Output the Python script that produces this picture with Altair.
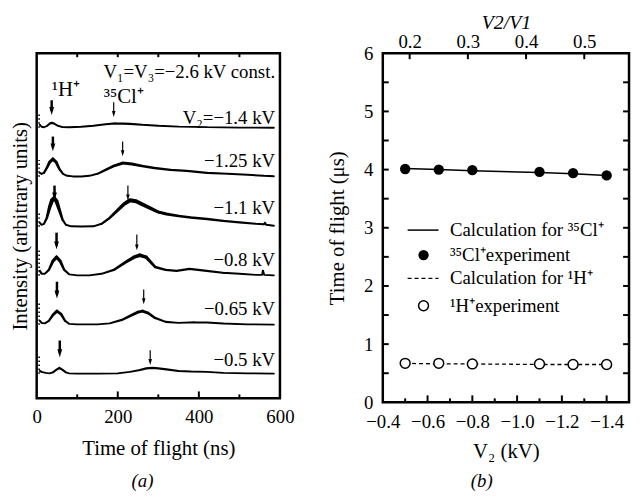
import altair as alt
import pandas as pd

FONT = "Liberation Serif"

# ---------------- Panel (a): time-of-flight spectra ----------------
trace_ids = ["-1.4", "-1.25", "-1.1", "-0.8", "-0.65", "-0.5"]
trace_labels = ["V₂=−1.4 kV", "−1.25 kV", "−1.1 kV", "−0.8 kV", "−0.65 kV", "−0.5 kV"]
baselines = [276, 226, 175, 125, 75, 25]
label_y = [286, 242, 194, 141, 91, 39]
spike_top = [16, 17, 15, 26, 22, 20]   # dotted start-up spike at t ~ 6 ns

t_140 = [8, 12, 18, 26, 33, 38, 44, 52, 62, 80, 110, 140, 170, 195, 230, 260, 300, 350, 420, 500, 585]
h_140 = [3, 1, 0.5, 2, 4.5, 5, 4, 2, 0.8, 0.5, 1, 2, 3.5, 4.5, 4, 3, 2, 1.2, 0.6, 0.2, 0]

t_125 = [8, 12, 18, 25, 32, 40, 48, 56, 65, 75, 90, 110, 130, 150, 170, 190, 213, 235, 260, 290, 330, 370, 420, 470, 520, 560, 585]
h_125 = [4, 3, 4, 9, 15, 18, 15, 8, 3, 1, 0.3, 0.3, 1, 3, 7, 11, 14, 13, 11, 9, 7, 6, 4, 3, 2, 1, 0.5]

t_110 = [8, 12, 18, 25, 32, 38, 43, 49, 56, 64, 72, 85, 110, 140, 160, 180, 200, 215, 230, 245, 260, 280, 300, 320, 350, 380, 420, 460, 500, 540, 560, 563, 566, 585]
h_110 = [4, 2, 3, 9, 20, 27, 29, 26, 17, 7, 2, 0.5, 0.3, 0.5, 3, 9, 17, 23, 27, 26, 23, 19, 15, 13, 11, 9.5, 8, 6, 4.5, 3, 2.5, 4, 2, 1]

t_080 = [8, 12, 20, 30, 40, 49, 58, 68, 80, 100, 130, 160, 190, 220, 240, 254, 270, 292, 318, 345, 377, 419, 459, 500, 541, 556, 558, 561, 585]
h_080 = [5, 2, 2, 6, 15, 19, 15, 6, 1.5, 0.5, 0.5, 2, 6, 14, 19, 21, 19, 9, 6, 5, 7, 5, 3, 2, 1, 1, 5, 1, 0.5]

t_065 = [8, 12, 20, 30, 40, 50, 60, 70, 80, 100, 150, 180, 210, 235, 250, 261, 275, 292, 318, 350, 390, 420, 460, 520, 585]
h_065 = [4, 2, 1.5, 4, 10, 14, 11, 4, 1, 0.5, 0.5, 1.5, 5, 10, 13, 14, 12, 7, 3, 2, 2.5, 2.3, 1.3, 0.5, 0.3]

t_050 = [8, 12, 22, 32, 40, 48, 56, 64, 72, 80, 100, 150, 200, 230, 255, 270, 286, 300, 320, 350, 380, 420, 460, 520, 585]
h_050 = [3, 2, 1, 0.5, 1.5, 4, 6, 4, 1.5, 0.5, 0.3, 0.3, 0.5, 2, 4, 5.5, 6, 5.5, 4.5, 3, 2.5, 2, 1, 0.5, 0.3]

trace_t = [t_140, t_125, t_110, t_080, t_065, t_050]
trace_h = [h_140, h_125, h_110, h_080, h_065, h_050]

# arrows marking the 1H+ and 35Cl+ peaks (tail and tip heights, same units)
arrow_h_t = [37, 40, 44, 49, 50, 57]
arrow_h_tail = [304, 267, 217, 169, 119, 59]
arrow_h_tip = [289, 252, 202, 152, 102, 42]
arrow_cl_t = [190, 212, 225, 247, 264, 280]
arrow_cl_tail = [302, 262, 217, 167, 111, 49]
arrow_cl_tip = [287, 247, 202, 151, 96, 34]

a_top_ticks = [100, 200, 300, 400, 500]
a_bottom_major = [200, 400]
a_bottom_minor = [100, 300, 500]

# ---------------- Panel (b): time of flight vs V2 ----------------
V1 = -2.6
v2 = [-0.5, -0.65, -0.8, -1.1, -1.25, -1.4]
tof_cl_exp = [4.01, 4.00, 3.99, 3.96, 3.94, 3.90]
tof_h_exp = [0.67, 0.67, 0.66, 0.66, 0.65, 0.65]
tof_cl_calc = [4.02, 4.00, 3.98, 3.95, 3.93, 3.90]
tof_h_calc = [0.67, 0.66, 0.66, 0.65, 0.65, 0.65]

b_x_labels = [-0.4, -0.6, -0.8, -1.0, -1.2, -1.4]
b_x_major = [-0.6, -0.8, -1.0, -1.2, -1.4]
b_x_minor = [-0.5, -0.7, -0.9, -1.1, -1.3]
b_y_ticks = [0.5, 1, 1.5, 2, 2.5, 3, 3.5, 4, 4.5, 5, 5.5]
ratio_ticks = [0.2, 0.3, 0.4, 0.5]

legend_text = ["Calculation for ³⁵Cl⁺", "³⁵Cl⁺experiment", "Calculation for ¹H⁺", "¹H⁺experiment"]
legend_y = [2.96, 2.53, 2.13, 1.66]

# ================= build panel (a) =================
WA, HA = 246, 349
rows = []
for tid, ts, hs, b in zip(trace_ids, trace_t, trace_h, baselines):
    for i, (t, h) in enumerate(zip(ts, hs)):
        rows.append({"trace": tid, "i": i, "t": t, "h": h, "y": b + h})
spec_df = pd.DataFrame(rows)

xa = alt.X("t:Q", scale=alt.Scale(domain=[0, 600], nice=False),
           axis=alt.Axis(values=[0, 200, 400, 600], tickSize=0, labelPadding=9, domain=False, grid=False,
                         labelOverlap=False, labelFlush=False, title="Time of flight (ns)", titlePadding=12))
ya = alt.Y("y:Q", scale=alt.Scale(domain=[0, 352], nice=False),
           axis=alt.Axis(labels=False, ticks=False, domain=False, grid=False,
                         title="Intensity (arbitrary units)", titlePadding=6))

lines = alt.Chart(spec_df).mark_trail(color="black").encode(
    x=xa, y=ya, detail="trace:N", order="i:Q",
    size=alt.Size("h:Q", scale=alt.Scale(domain=[0, 30], range=[1.8, 4.4]), legend=None))

spike_df = pd.DataFrame({"t": [6] * 6, "b": baselines, "top": [b + s for b, s in zip(baselines, spike_top)]})
spikes = alt.Chart(spike_df).mark_rule(color="black", strokeWidth=1.6, strokeDash=[1.5, 2.5]).encode(
    x="t:Q", y="b:Q", y2="top:Q")

arr_h_df = pd.DataFrame({"t": arrow_h_t, "tail": arrow_h_tail, "tip": arrow_h_tip})
arr_cl_df = pd.DataFrame({"t": arrow_cl_t, "tail": arrow_cl_tail, "tip": arrow_cl_tip})

def arrows(df, sw, head):
    shaft = alt.Chart(df).mark_rule(color="black", strokeWidth=sw).encode(
        x="t:Q", y="tail:Q", y2="tip2:Q").transform_calculate(tip2=f"datum.tip + {head}")
    tri = alt.Chart(df).mark_point(shape="M-0.6,-1L0.6,-1L0,1Z", filled=True, color="black",
                                   opacity=1, size=(2 * head) ** 2).encode(
        x="t:Q", y="hy:Q").transform_calculate(hy=f"datum.tip + {head}")
    return shaft + tri

lab_df = pd.DataFrame({"t": [588] * 6, "y": label_y, "txt": trace_labels})
labels = alt.Chart(lab_df).mark_text(align="right", baseline="middle", font=FONT, fontSize=19).encode(
    x="t:Q", y="y:Q", text="txt:N")
ann_df = pd.DataFrame({"t": [588, 72, 215], "y": [333, 314, 307],
                       "txt": ["V₁=V₃=−2.6 kV const.", "¹H⁺", "³⁵Cl⁺"]})
ann_r = alt.Chart(ann_df.iloc[[0]]).mark_text(align="right", baseline="middle", font=FONT, fontSize=19).encode(
    x="t:Q", y="y:Q", text="txt:N")
ann_c = alt.Chart(ann_df.iloc[1:]).mark_text(align="center", baseline="middle", font=FONT, fontSize=21).encode(
    x="t:Q", y="y:Q", text="txt:N")

top_t = alt.Chart(pd.DataFrame({"t": a_top_ticks})).mark_rule(color="black", strokeWidth=2).encode(
    x="t:Q", y=alt.value(0), y2=alt.value(4))
bot_major = alt.Chart(pd.DataFrame({"t": a_bottom_major})).mark_rule(color="black", strokeWidth=2).encode(
    x="t:Q", y=alt.value(HA), y2=alt.value(HA - 7))
bot_minor = alt.Chart(pd.DataFrame({"t": a_bottom_minor})).mark_rule(color="black", strokeWidth=2).encode(
    x="t:Q", y=alt.value(HA), y2=alt.value(HA - 4))
cap_a = alt.Chart(pd.DataFrame({"c": ["(a)"]})).mark_text(font=FONT, fontSize=19, fontStyle="italic",
                                                          baseline="middle").encode(
    x=alt.value(107), y=alt.value(433), text="c:N")

panel_a = alt.layer(lines, spikes, arrows(arr_h_df, 2.5, 4), arrows(arr_cl_df, 1.2, 3), labels, ann_r, ann_c,
                    top_t, bot_major, bot_minor, cap_a).properties(width=WA, height=HA)

# ================= build panel (b) =================
WB, HB = 249, 353
xs = alt.Scale(domain=[-1.5, -0.4], reverse=True, nice=False, zero=False)
ys = alt.Scale(domain=[0, 6], nice=False)
xb_axis = alt.Axis(values=b_x_labels, format=".1f", tickSize=0, labelPadding=10, domain=False, grid=False,
                   labelOverlap=False, labelFlush=False, title="V₂ (kV)", titlePadding=10)
yb_axis = alt.Axis(values=[0, 1, 2, 3, 4, 5, 6], format="d", tickSize=0, labelPadding=10, domain=False,
                   grid=False, title="Time of flight (μs)", titlePadding=16)

b_df = pd.DataFrame({"v2": v2, "cl_exp": tof_cl_exp, "h_exp": tof_h_exp,
                     "cl_calc": tof_cl_calc, "h_calc": tof_h_calc})
base_b = alt.Chart(b_df)
cl_line = base_b.mark_line(color="black", strokeWidth=1.5).encode(
    x=alt.X("v2:Q", scale=xs, axis=xb_axis), y=alt.Y("cl_calc:Q", scale=ys, axis=yb_axis))
h_line = base_b.mark_line(color="black", strokeWidth=1.3, strokeDash=[4, 3]).encode(
    x=alt.X("v2:Q", scale=xs), y=alt.Y("h_calc:Q", scale=ys))
cl_pts = base_b.mark_point(shape="circle", filled=True, color="black", opacity=1, size=110).encode(
    x=alt.X("v2:Q", scale=xs), y=alt.Y("cl_exp:Q", scale=ys))
h_pts = base_b.mark_point(shape="circle", filled=True, fill="white", stroke="black", strokeWidth=1.5,
                          opacity=1, size=100).encode(
    x=alt.X("v2:Q", scale=xs), y=alt.Y("h_exp:Q", scale=ys))

leg_df = pd.DataFrame({"x": [-0.70] * 4, "y": legend_y, "txt": legend_text})
leg_txt = alt.Chart(leg_df).mark_text(align="left", baseline="middle", font=FONT, fontSize=19).encode(
    x=alt.X("x:Q", scale=xs), y=alt.Y("y:Q", scale=ys), text="txt:N")
leg_lines_df = pd.DataFrame({"x": [-0.511, -0.511], "x2": [-0.649, -0.649], "y": [legend_y[0], legend_y[2]]})
leg_solid = alt.Chart(leg_lines_df.iloc[[0]]).mark_rule(color="black", strokeWidth=1.5).encode(
    x=alt.X("x:Q", scale=xs), x2="x2:Q", y=alt.Y("y:Q", scale=ys))
leg_dash = alt.Chart(leg_lines_df.iloc[[1]]).mark_rule(color="black", strokeWidth=1.3, strokeDash=[4, 3]).encode(
    x=alt.X("x:Q", scale=xs), x2="x2:Q", y=alt.Y("y:Q", scale=ys))
leg_pts_df = pd.DataFrame({"x": [-0.582], "y1": [legend_y[1]], "y2": [legend_y[3]]})
leg_fill = alt.Chart(leg_pts_df).mark_point(shape="circle", filled=True, color="black", opacity=1,
                                            size=110).encode(
    x=alt.X("x:Q", scale=xs), y=alt.Y("y1:Q", scale=ys))
leg_open = alt.Chart(leg_pts_df).mark_point(shape="circle", filled=True, fill="white", stroke="black",
                                            strokeWidth=1.5, opacity=1, size=100).encode(
    x=alt.X("x:Q", scale=xs), y=alt.Y("y2:Q", scale=ys))

bt_major = alt.Chart(pd.DataFrame({"x": b_x_major})).mark_rule(color="black", strokeWidth=2).encode(
    x=alt.X("x:Q", scale=xs), y=alt.value(HB), y2=alt.value(HB - 7))
bt_minor = alt.Chart(pd.DataFrame({"x": b_x_minor})).mark_rule(color="black", strokeWidth=2).encode(
    x=alt.X("x:Q", scale=xs), y=alt.value(HB), y2=alt.value(HB - 4))
yl_t = alt.Chart(pd.DataFrame({"y": b_y_ticks})).mark_rule(color="black", strokeWidth=2).encode(
    y=alt.Y("y:Q", scale=ys), x=alt.value(0), x2=alt.value(6))
yr_t = alt.Chart(pd.DataFrame({"y": b_y_ticks})).mark_rule(color="black", strokeWidth=2).encode(
    y=alt.Y("y:Q", scale=ys), x=alt.value(WB), x2=alt.value(WB - 6))
cap_b = alt.Chart(pd.DataFrame({"c": ["(b)"]})).mark_text(font=FONT, fontSize=19, fontStyle="italic",
                                                          baseline="middle").encode(
    x=alt.value(100), y=alt.value(433), text="c:N")

inner_b = alt.layer(cl_line, h_line, cl_pts, h_pts, leg_solid, leg_dash, leg_fill, leg_open, leg_txt,
                    bt_major, bt_minor, yl_t, yr_t, cap_b)

rscale = alt.Scale(domain=[-0.4 / V1, -1.5 / V1], nice=False, zero=False)
top_axis = alt.Chart(pd.DataFrame({"r": ratio_ticks})).mark_rule(color="black", strokeWidth=2).encode(
    x=alt.X("r:Q", scale=rscale,
            axis=alt.Axis(orient="top", values=ratio_ticks, format=".1f", tickSize=0, labelPadding=2,
                          domain=False, grid=False, labelOverlap=False, labelFlush=False, title="V2/V1",
                          titleFontStyle="italic", titleFontSize=20, titlePadding=0)),
    y=alt.value(0), y2=alt.value(6))

panel_b = alt.layer(inner_b, top_axis).resolve_scale(x="independent").properties(width=WB, height=HB)

chart = alt.hconcat(panel_a, panel_b, spacing=104, bounds="flush").properties(
    padding=0, background="white"
).configure_view(stroke="black", strokeWidth=2.5).configure_axis(
    labelFont=FONT, titleFont=FONT, labelFontSize=19, titleFontSize=21, labelColor="black",
    titleColor="black", titleFontWeight="normal"
)

chart.save("out.html", embed_options={"renderer": "svg", "actions": False})
